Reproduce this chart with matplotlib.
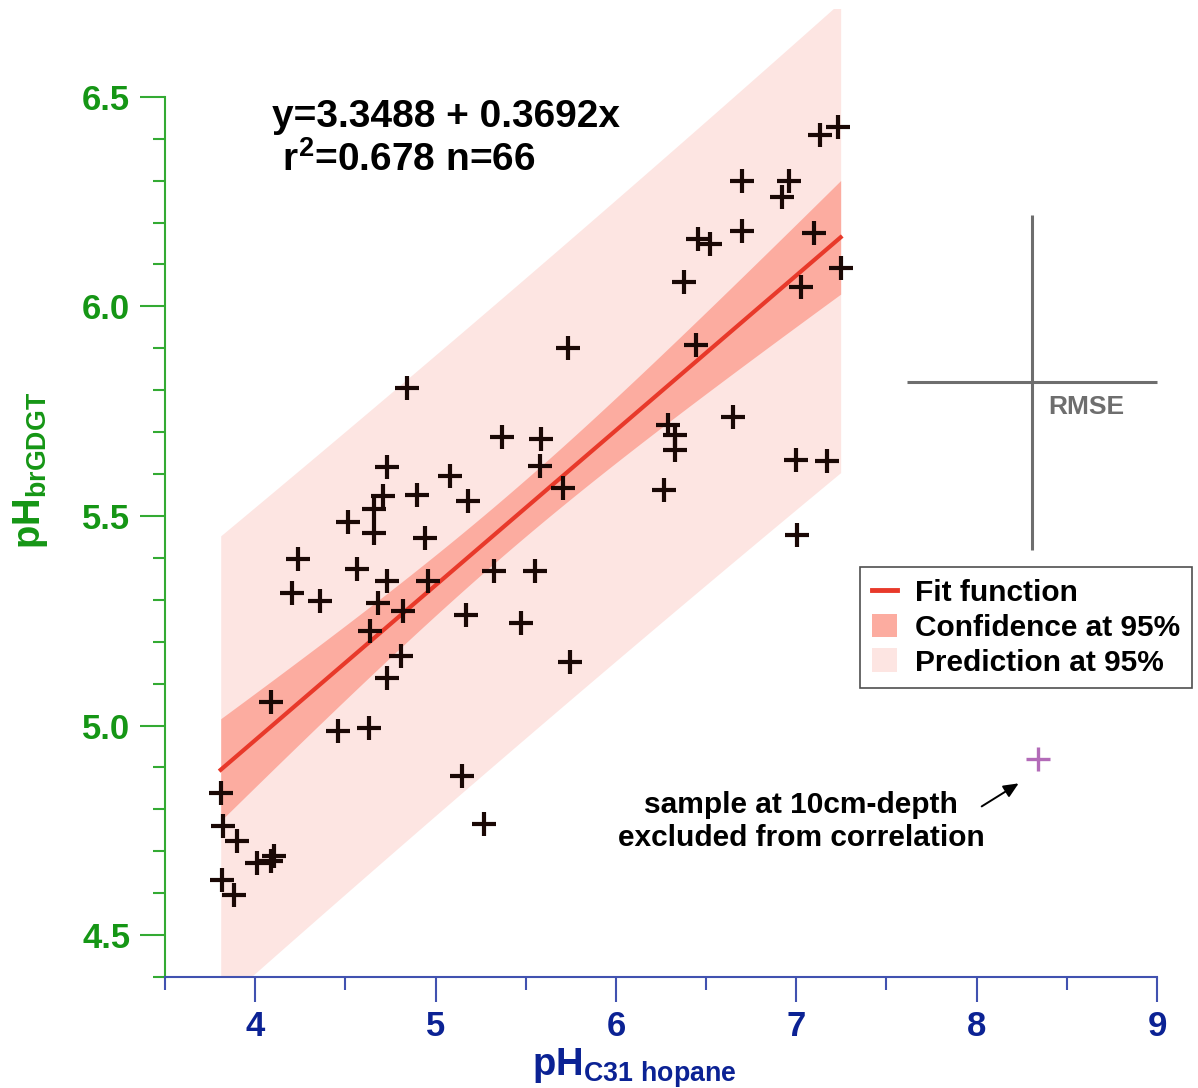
import numpy as np
from matplotlib import pyplot as plt
from matplotlib.lines import Line2D
from matplotlib.patches import Patch
from matplotlib.ticker import FixedLocator

plt.rcParams['font.family'] = ['Liberation Sans', 'DejaVu Sans']
plt.rcParams['font.weight'] = 'bold'
plt.rcParams['mathtext.fontset'] = 'custom'
plt.rcParams['mathtext.rm'] = 'Liberation Sans:bold'
plt.rcParams['mathtext.it'] = 'Liberation Sans:bold'
plt.rcParams['mathtext.bf'] = 'Liberation Sans:bold'

# samples used for the correlation
ph_hopane = [7.232, 7.129, 6.698, 6.957, 6.920, 6.698, 7.098, 6.457, 6.524, 7.246,
             6.379, 7.028, 6.444, 5.737, 4.839, 6.287, 6.328, 6.328, 6.648, 5.367,
             5.583, 5.578, 4.733, 7.000, 7.172, 5.078, 5.706, 6.265, 5.178, 4.706,
             4.656, 4.898, 4.517, 4.661, 4.944, 7.004, 4.237, 4.565, 4.733, 4.959,
             5.322, 5.550, 4.204, 4.361, 4.683, 4.822, 5.167, 5.476, 4.639, 4.811,
             5.743, 4.733, 4.089, 4.461, 4.633, 5.144, 5.267, 3.809, 3.822, 3.898,
             4.009, 4.106, 4.089, 3.817, 3.883]
ph_brgdgt = [6.428, 6.410, 6.298, 6.298, 6.260, 6.179, 6.174, 6.161, 6.148, 6.092,
             6.059, 6.047, 5.908, 5.900, 5.805, 5.717, 5.693, 5.657, 5.735, 5.689,
             5.683, 5.620, 5.617, 5.634, 5.630, 5.595, 5.567, 5.563, 5.536, 5.548,
             5.517, 5.551, 5.486, 5.460, 5.448, 5.455, 5.398, 5.374, 5.345, 5.345,
             5.369, 5.369, 5.317, 5.298, 5.293, 5.274, 5.264, 5.245, 5.226, 5.167,
             5.152, 5.114, 5.057, 4.986, 4.995, 4.879, 4.764, 4.838, 4.760, 4.724,
             4.671, 4.688, 4.676, 4.631, 4.595]

# excluded sample (10 cm depth)
excl_x = [8.339]
excl_y = [4.921]

# RMSE cross
rmse_center = (8.306, 5.819)
rmse_x = 0.694
rmse_y = 0.400

eq_text = 'y=3.3488 + 0.3692x'
r2_text = ' r$^{2}$=0.678 n=66'

T95 = 1.998

x = np.array(ph_hopane)
y = np.array(ph_brgdgt)
n = len(x)
slope, icpt = np.polyfit(x, y, 1)
resid = y - (icpt + slope * x)
s = np.sqrt(np.sum(resid ** 2) / (n - 2))
xf = np.linspace(x.min(), x.max(), 200)
yf = icpt + slope * xf
sxx = np.sum((x - x.mean()) ** 2)
ci = T95 * s * np.sqrt(1.0 / n + (xf - x.mean()) ** 2 / sxx)
pi = T95 * s * np.sqrt(1 + 1.0 / n + (xf - x.mean()) ** 2 / sxx)

W, H = 1198, 1088
fig = plt.figure(figsize=(W / 100, H / 100), dpi=100)
ax = fig.add_axes([165 / W, 1 - 977 / H, (1157 - 165) / W, (977 - 8.8) / H])

c_pred = '#fde5e2'
c_conf = '#fcaca0'
c_fit = '#e8392a'
green = '#159615'
green_sp = '#33aa33'
blue = '#0b2294'
blue_sp = '#4152b0'

ax.fill_between(xf, yf - pi, yf + pi, color=c_pred, lw=0, zorder=1)
ax.fill_between(xf, yf - ci, yf + ci, color=c_conf, lw=0, zorder=2)
ax.plot(xf, yf, color=c_fit, lw=3, zorder=3)
ax.plot(x, y, ls='none', marker='+', ms=17, mew=3, color='#1a0805', zorder=4)
ax.plot(excl_x, excl_y, ls='none', marker='+', ms=17, mew=2.4, color='#b36bb8',
        zorder=4, clip_on=False)

ax.errorbar([rmse_center[0]], [rmse_center[1]], xerr=rmse_x, yerr=rmse_y,
            fmt='none', ecolor='#6e6e6e', elinewidth=2.2, capsize=0, clip_on=False)
ax.text(rmse_center[0] + 0.09, rmse_center[1] - 0.06, 'RMSE', color='#6e6e6e',
        fontsize=19, fontweight='bold', ha='left', va='center')

ax.set_xlim(3.5, 9)
ax.set_ylim(4.4, 6.71)
for side in ['top', 'right']:
    ax.spines[side].set_visible(False)
ax.spines['left'].set_bounds(4.4, 6.5)
ax.spines['bottom'].set_bounds(3.5, 9)
ax.spines['left'].set_color(green_sp)
ax.spines['bottom'].set_color(blue_sp)
ax.spines['left'].set_linewidth(1.5)
ax.spines['bottom'].set_linewidth(1.5)

ax.xaxis.set_major_locator(FixedLocator([4, 5, 6, 7, 8, 9]))
ax.xaxis.set_minor_locator(FixedLocator([3.5, 4.5, 5.5, 6.5, 7.5, 8.5]))
ax.yaxis.set_major_locator(FixedLocator([4.5, 5.0, 5.5, 6.0, 6.5]))
ax.yaxis.set_minor_locator(FixedLocator(np.round(np.arange(4.4, 6.51, 0.1), 2)))
ax.set_xticklabels(['4', '5', '6', '7', '8', '9'])
ax.set_yticklabels(['4.5', '5.0', '5.5', '6.0', '6.5'])

ax.tick_params(axis='x', which='major', direction='out', length=18, width=1.5,
               color=blue_sp, labelcolor=blue, labelsize=25, pad=6)
ax.tick_params(axis='x', which='minor', direction='out', length=9, width=1.5, color=blue_sp)
ax.tick_params(axis='y', which='major', direction='out', length=18, width=1.5,
               color=green_sp, labelcolor=green, labelsize=25, pad=7)
ax.tick_params(axis='y', which='minor', direction='out', length=9, width=1.5, color=green_sp)

fig.text(634 / W, 1 - 1076 / H, r'pH$_{\rm C31\ hopane}$', color=blue, fontsize=27.5,
         fontweight='bold', ha='center', va='baseline')
fig.text(30 / W, 1 - 470 / H, r'pH$_{\rm brGDGT}$', color=green, fontsize=27.5,
         fontweight='bold', ha='center', va='center', rotation=90)

fig.text(272 / W, 1 - 117 / H, eq_text, fontsize=28, fontweight='bold',
         ha='left', va='center')
fig.text(272 / W, 1 - 160 / H, r2_text, fontsize=28, fontweight='bold',
         ha='left', va='center')

ax.annotate('', xy=(8.233, 4.862), xytext=(8.028, 4.807),
            arrowprops=dict(arrowstyle='-|>,head_length=0.9,head_width=0.4',
                            color='black', lw=1.4, shrinkA=0, shrinkB=0))
ax.text(7.028, 4.771, 'sample at 10cm-depth\nexcluded from correlation',
        fontsize=21.5, fontweight='bold', ha='center', va='center', linespacing=1.2)

handles = [Line2D([], [], color=c_fit, lw=3.5),
           Patch(facecolor=c_conf, edgecolor='none'),
           Patch(facecolor=c_pred, edgecolor='none')]
leg = fig.legend(handles, ['Fit function', 'Confidence at 95%', 'Prediction at 95%'],
                 loc='upper left', bbox_to_anchor=(860 / W, 1 - 567 / H),
                 prop={'size': 21.5, 'weight': 'bold'}, frameon=True, fancybox=False,
                 handlelength=0.84, handleheight=0.84, handletextpad=0.6,
                 labelspacing=0.22, borderpad=0.4, borderaxespad=0)
leg.get_frame().set_edgecolor('#222222')
leg.get_frame().set_linewidth(1.2)

fig.savefig('out.png', dpi=100)
